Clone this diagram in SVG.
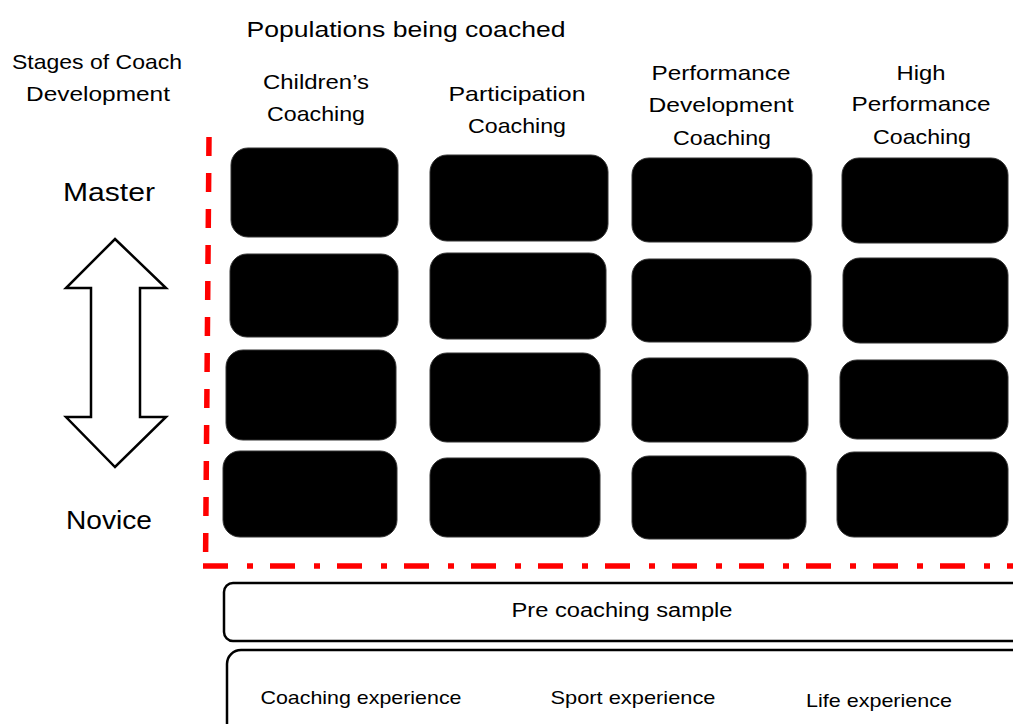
<svg xmlns="http://www.w3.org/2000/svg" width="1013" height="724" viewBox="0 0 1013 724">
<style>
text{font-family:"Liberation Sans",Arial,sans-serif;fill:#000;text-anchor:middle}
.h{font-size:22px}
.c{font-size:21px}
.s{font-size:25px}
.b{font-size:20px}
.e{font-size:19px}
.cell{fill:#000;stroke:#333;stroke-width:1}
.band{fill:#fff;stroke:#000;stroke-width:2.5}
</style>
<rect width="1013" height="724" fill="#fff"/>
<g id="titles">
<text class="h" x="406" y="37" textLength="319" lengthAdjust="spacingAndGlyphs">Populations being coached</text>
<text class="c" x="97" y="69" textLength="170" lengthAdjust="spacingAndGlyphs">Stages of Coach</text>
<text class="c" x="98" y="101" textLength="144" lengthAdjust="spacingAndGlyphs">Development</text>
</g>
<g id="col-children">
<text class="c" x="316" y="89" textLength="106" lengthAdjust="spacingAndGlyphs">Children’s</text>
<text class="c" x="316" y="121" textLength="98" lengthAdjust="spacingAndGlyphs">Coaching</text>
</g>
<g id="col-participation">
<text class="c" x="517" y="101" textLength="137" lengthAdjust="spacingAndGlyphs">Participation</text>
<text class="c" x="517" y="133" textLength="98" lengthAdjust="spacingAndGlyphs">Coaching</text>
</g>
<g id="col-performance-development">
<text class="c" x="721" y="80" textLength="139" lengthAdjust="spacingAndGlyphs">Performance</text>
<text class="c" x="721" y="112" textLength="145" lengthAdjust="spacingAndGlyphs">Development</text>
<text class="c" x="722" y="145" textLength="98" lengthAdjust="spacingAndGlyphs">Coaching</text>
</g>
<g id="col-high-performance">
<text class="c" x="921" y="80" textLength="49" lengthAdjust="spacingAndGlyphs">High</text>
<text class="c" x="921" y="111" textLength="139" lengthAdjust="spacingAndGlyphs">Performance</text>
<text class="c" x="922" y="144" textLength="98" lengthAdjust="spacingAndGlyphs">Coaching</text>
</g>
<g id="stage-labels">
<text class="s" x="109" y="201" textLength="92" lengthAdjust="spacingAndGlyphs">Master</text>
<text class="s" x="109" y="529" textLength="86" lengthAdjust="spacingAndGlyphs">Novice</text>
</g>
<g id="double-arrow">
<path d="M115,239 L166,288 L140,288 L140,417 L166,417 L115,467 L66,417 L91,417 L91,288 L66,288 Z" fill="#fff" stroke="#000" stroke-width="2.5" stroke-linejoin="miter"/>
</g>
<g id="cells">
<rect id="a1" class="cell" x="231" y="148" width="167" height="89" rx="17"/>
<rect id="b1" class="cell" x="430" y="155" width="178" height="86" rx="17"/>
<rect id="c1" class="cell" x="632" y="158" width="180" height="84" rx="17"/>
<rect id="d1" class="cell" x="842" y="158" width="166" height="85" rx="17"/>
<rect id="a2" class="cell" x="230" y="254" width="168" height="83" rx="17"/>
<rect id="b2" class="cell" x="430" y="253" width="176" height="86" rx="17"/>
<rect id="c2" class="cell" x="632" y="259" width="179" height="83" rx="17"/>
<rect id="d2" class="cell" x="843" y="258" width="165" height="85" rx="17"/>
<rect id="a3" class="cell" x="226" y="350" width="170" height="90" rx="17"/>
<rect id="b3" class="cell" x="430" y="353" width="170" height="89" rx="17"/>
<rect id="c3" class="cell" x="632" y="358" width="176" height="84" rx="17"/>
<rect id="d3" class="cell" x="840" y="360" width="168" height="79" rx="17"/>
<rect id="a4" class="cell" x="223" y="451" width="174" height="86" rx="17"/>
<rect id="b4" class="cell" x="430" y="458" width="170" height="79" rx="17"/>
<rect id="c4" class="cell" x="632" y="456" width="174" height="83" rx="17"/>
<rect id="d4" class="cell" x="837" y="452" width="171" height="85" rx="17"/>
</g>
<g id="boundary" fill="none" stroke="#ff0000" stroke-width="5.5">
<path d="M209,137 L205.5,566" stroke-dasharray="19 17"/>
<path d="M203,566 L1013,566" stroke-dasharray="25 19 6 17"/>
</g>
<g id="pre-coaching">
<rect class="band" x="224" y="583" width="810" height="58" rx="9"/>
<text class="b" x="622" y="617" textLength="221" lengthAdjust="spacingAndGlyphs">Pre coaching sample</text>
</g>
<g id="experience">
<rect class="band" x="227" y="650" width="810" height="110" rx="14"/>
<text class="e" x="361" y="704" textLength="201" lengthAdjust="spacingAndGlyphs">Coaching experience</text>
<text class="e" x="633" y="704" textLength="165" lengthAdjust="spacingAndGlyphs">Sport experience</text>
<text class="e" x="879" y="707" textLength="146" lengthAdjust="spacingAndGlyphs">Life experience</text>
</g>
</svg>
